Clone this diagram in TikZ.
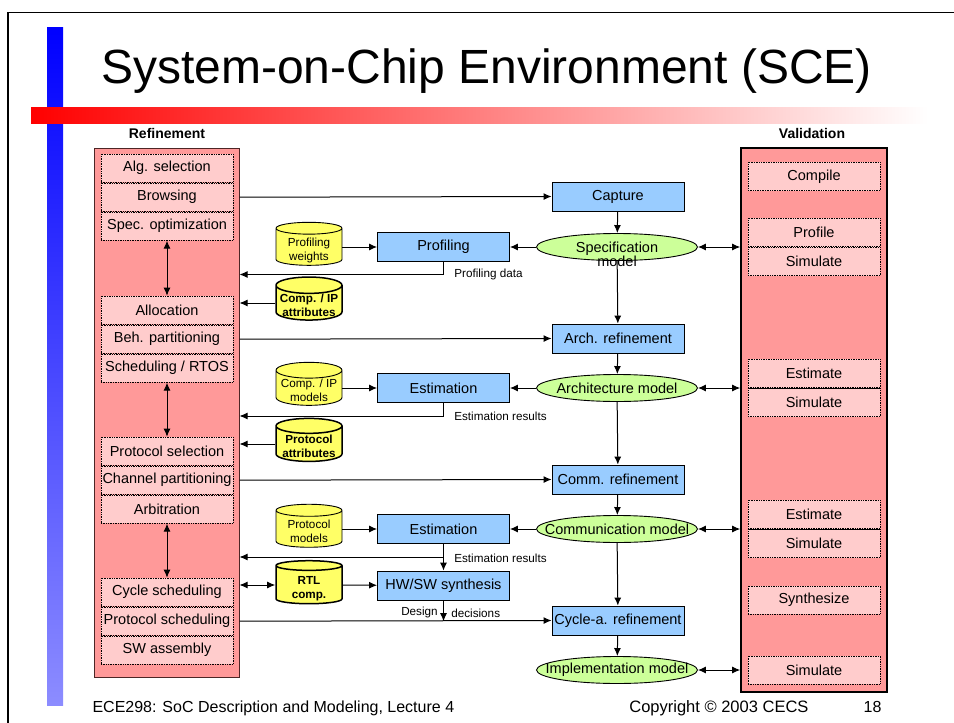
\documentclass[tikz,border=0pt]{standalone}
\usepackage{fontspec}
\setmainfont{Liberation Sans}
\usetikzlibrary{positioning,shapes.geometric,arrows.meta}
\definecolor{panelred}{HTML}{FF9999}
\definecolor{paneledge}{HTML}{4D2626}
\definecolor{cellpink}{HTML}{FFCCCC}
\definecolor{toolblue}{HTML}{99CCFF}
\definecolor{modelgreen}{HTML}{CCFF99}
\definecolor{dbyellow}{HTML}{FFFF66}
\newcommand{\wide}[1]{\makebox[0pt]{#1}}
\newcommand{\dbtext}[2]{\raisebox{-6.5pt}[0pt][0pt]{\begin{tabular}{@{}c@{}}#1\\#2\end{tabular}}}

\begin{document}
\begin{tikzpicture}[x=1pt,y=-1pt,
	cell/.style={rectangle,draw=black,densely dotted,line width=0.7pt,fill=cellpink,minimum width=132pt,minimum height=28.3pt,inner sep=0pt,font=\fontsize{14.5}{16}\selectfont},
	tool/.style={rectangle,draw=black,line width=0.9pt,fill=toolblue,minimum width=132pt,minimum height=29pt,inner sep=0pt,font=\fontsize{14.5}{16}\selectfont},
	model/.style={ellipse,draw=black,line width=0.9pt,fill=modelgreen,minimum width=161pt,minimum height=27pt,inner sep=0pt,font=\fontsize{14.5}{16}\selectfont},
	db/.style={cylinder,shape border rotate=90,aspect=0.28,draw=black,line width=0.9pt,fill=dbyellow,minimum width=66pt,minimum height=43pt,inner sep=0pt,font=\fontsize{11.7}{14}\selectfont},
	dbb/.style={db,line width=1.5pt,font=\bfseries\fontsize{11.7}{14}\selectfont},
	arr/.style={-{Latex[length=8pt,width=7pt]},line width=1pt},
	darr/.style={{Latex[length=8pt,width=7pt]}-{Latex[length=8pt,width=7pt]},line width=1pt},
	note/.style={font=\fontsize{11.7}{13}\selectfont}]
	\useasboundingbox (0,0) rectangle (954,723);
	\draw[line width=1.5pt] (954,12.7) -- (8,12.7) -- (8,723);
	\shade[top color=blue,bottom color=blue!45] (47,27) rectangle (63,705);
	\shade[left color=red,right color=white] (31,107) rectangle (928,123);
	\node[anchor=base,font=\fontsize{48}{50}\selectfont] (title) at (486.5,83) {System-on-Chip Environment (SCE)};
	\node[font=\bfseries\fontsize{14}{16}\selectfont] (reflab) at (167,133) {Refinement};
	\node[font=\bfseries\fontsize{14}{16}\selectfont] (vallab) at (812,133) {Validation};

	\node[rectangle,draw=paneledge,line width=1pt,fill=panelred,minimum width=145pt,minimum height=529pt] (lpanel) at (166.5,412.5) {};
	\node[rectangle,draw=black,line width=1.6pt,fill=panelred,minimum width=146pt,minimum height=544pt] (rpanel) at (814,420) {};

	\node[cell] (alg) at (167,168.2) {Alg. selection};
	\node[cell,below=0pt of alg] (brow) {Browsing};
	\node[cell,below=0pt of brow] (specopt) {Spec. optimization};
	\node[cell] (alloc) at (167,310.2) {Allocation};
	\node[cell,below=0pt of alloc] (behpart) {Beh. partitioning};
	\node[cell,below=0pt of behpart] (sched) {Scheduling / RTOS};
	\node[cell] (protsel) at (167,451.2) {Protocol selection};
	\node[cell,below=0pt of protsel] (chanpart) {Channel partitioning};
	\node[cell,below=0pt of chanpart] (arbit) {Arbitration};
	\node[cell] (cycsched) at (167,592.2) {Cycle scheduling};
	\node[cell,below=0pt of cycsched] (protsched) {Protocol scheduling};
	\node[cell,below=0pt of protsched] (swasm) {SW assembly};

	\node[cell] (compile) at (814,176.5) {Compile};
	\node[cell] (profile) at (814,232.5) {Profile};
	\node[cell,below=0pt of profile] (sima) {Simulate};
	\node[cell] (estima) at (814,373.5) {Estimate};
	\node[cell,below=0pt of estima] (simb) {Simulate};
	\node[cell] (estimb) at (814,514.5) {Estimate};
	\node[cell,below=0pt of estimb] (simc) {Simulate};
	\node[cell] (synth) at (814,600) {Synthesize};
	\node[cell] (simd) at (814,670) {Simulate};
	\draw[line width=0.9pt] (estima.south west) -- (estima.south east);
	\draw[line width=0.9pt] (estimb.south west) -- (estimb.south east);

	\node[tool] (capture) at (618,196.5) {Capture};
	\node[model] (spec) at (617,247) {\raisebox{-5pt}[0pt][0pt]{\begin{tabular}[t]{@{}c@{}}Specification\\[-2pt]model\end{tabular}}};
	\node[tool] (archref) at (618,338.5) {Arch. refinement};
	\node[model] (archmod) at (617,388) {\wide{Architecture model}};
	\node[tool] (commref) at (618,479.5) {Comm. refinement};
	\node[model] (commmod) at (617,529) {\wide{Communication model}};
	\node[tool] (cycref) at (618,620.5) {Cycle-a. refinement};
	\node[model] (implmod) at (617,670) {\wide{Implementation model}};

	\node[tool] (profiling) at (443.5,247) {Profiling};
	\node[tool] (esta) at (443.5,388) {Estimation};
	\node[tool] (estb) at (443.5,529) {Estimation};
	\node[tool] (hwsw) at (443.5,585.5) {HW/SW synthesis};

	\node[db] (pweights) at (309,247) {\dbtext{Profiling}{weights}};
	\node[dbb] (cattr) at (309,303) {\dbtext{Comp. / IP}{attributes}};
	\node[db] (cmodels) at (309,388) {\dbtext{Comp. / IP}{models}};
	\node[dbb] (pattr) at (309,444) {\dbtext{Protocol}{attributes}};
	\node[db] (pmodels) at (309,529) {\dbtext{Protocol}{models}};
	\node[dbb] (rtl) at (309,585) {\dbtext{RTL}{comp.}};

	\coordinate (ja) at (167,274.5);
	\coordinate (jb) at (167,416);
	\coordinate (jc) at (167,557);

	\draw[arr] (brow -| lpanel.east) -- (capture.west);
	\draw[arr] (behpart -| lpanel.east) -- (archref.west);
	\draw[arr] (chanpart -| lpanel.east) -- (commref.west);
	\draw[arr] (protsched -| lpanel.east) -- (cycref.west);
	\draw[darr] (specopt.south) -- (alloc.north);
	\draw[darr] (sched.south) -- (protsel.north);
	\draw[darr] (arbit.south) -- (cycsched.north);

	\draw[arr] (capture) -- (spec);
	\draw[arr] (spec) -- (archref);
	\draw[arr] (archref) -- (archmod);
	\draw[arr] (archmod) -- (commref);
	\draw[arr] (commref) -- (commmod);
	\draw[arr] (commmod) -- (cycref);
	\draw[arr] (cycref) -- (implmod);

	\draw[arr] (spec) -- (profiling);
	\draw[arr] (archmod) -- (esta);
	\draw[arr] (commmod) -- (estb);
	\draw[arr] (pweights) -- (profiling);
	\draw[arr] (cmodels) -- (esta);
	\draw[arr] (pmodels) -- (estb);
	\draw[arr] (rtl) -- (hwsw);
	\draw[arr] (estb) -- (hwsw);
	\draw[arr] (cattr.west) -- (cattr -| lpanel.east);
	\draw[arr] (pattr.west) -- (pattr -| lpanel.east);
	\draw[darr] (rtl.west) -- (rtl -| lpanel.east);

	\draw[arr] (profiling.south) |- node[pos=0.5,anchor=west,xshift=7pt,note]{Profiling data} (ja -| lpanel.east);
	\draw[arr] (esta.south) |- node[pos=0.5,anchor=west,xshift=7pt,note]{Estimation results} (jb -| lpanel.east);
	\draw[arr] (estb.south |- jc) node[anchor=west,xshift=7pt,yshift=-1pt,note]{Estimation results} -- (jc -| lpanel.east);
	\draw[arr] (hwsw.south) -- node[pos=0.6,left,xshift=-2pt,note]{Design} node[pos=0.6,right,xshift=4pt,note]{decisions} (hwsw.south |- protsched);

	\draw[darr] (spec.east) -- (spec -| rpanel.west);
	\draw[darr] (archmod.east) -- (archmod -| rpanel.west);
	\draw[darr] (commmod.east) -- (commmod -| rpanel.west);
	\draw[darr] (implmod.east) -- (implmod -| rpanel.west);

	\node[anchor=base west,font=\fontsize{16}{18}\selectfont] (foot) at (89,712) {ECE298: SoC Description and Modeling, Lecture 4};
	\node[anchor=base east,font=\fontsize{16.5}{18}\selectfont] (copy) at (812,712) {Copyright \textcopyright{} 2003 CECS};
	\node[anchor=base east,font=\fontsize{16}{18}\selectfont] (pageno) at (885,712) {18};
\end{tikzpicture}
\end{document}
